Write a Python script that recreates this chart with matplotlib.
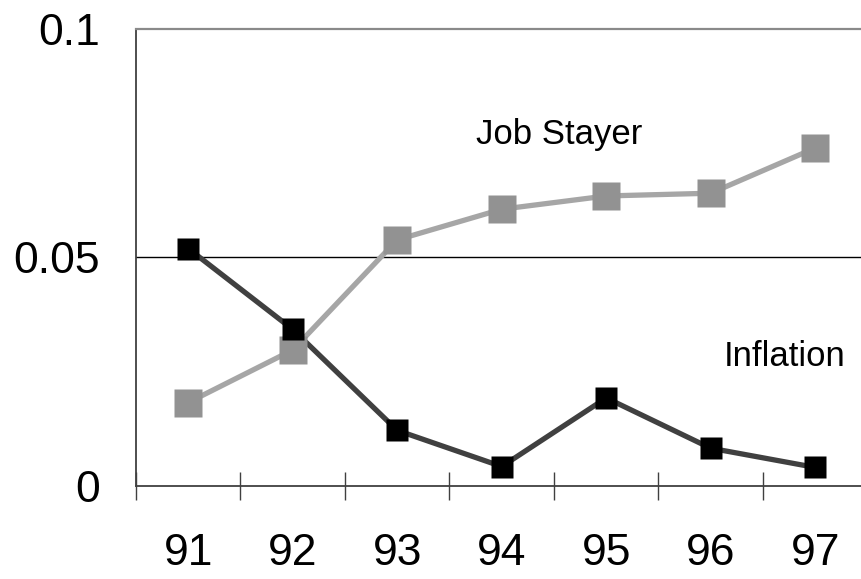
import matplotlib
matplotlib.use("Agg")
import matplotlib.pyplot as plt
import numpy as np

plt.rcParams['font.family'] = ['Liberation Sans', 'DejaVu Sans']

years = ["91", "92", "93", "94", "95", "96", "97"]
job_stayer = [0.0182, 0.0297, 0.0538, 0.0605, 0.0634, 0.0640, 0.0739]
inflation = [0.0519, 0.0342, 0.0121, 0.0042, 0.0192, 0.0082, 0.0040]
y_ticks = [0, 0.05, 0.1]
y_tick_labels = ["0", "0.05", "0.1"]

W, H = 862, 579
fig = plt.figure(figsize=(W / 100, H / 100), dpi=100)
left, right, top, bottom = 136, 867.5, 28.7, 485.7
ax = fig.add_axes([left / W, (H - bottom) / H, (right - left) / W, (bottom - top) / H])

x = np.arange(1, len(years) + 1)

# lines
ax.plot(x, job_stayer, color="#a6a6a6", lw=3.8, zorder=2, solid_capstyle="butt")
ax.plot(x, inflation, color="#404040", lw=3.8, zorder=2.1, solid_capstyle="butt")
# markers
ax.plot(x, job_stayer, ls="none", marker="s", ms=20, mfc="#929292", mec="none", zorder=3)
ax.plot(x, inflation, ls="none", marker="s", ms=16.5, mfc="black", mec="none", zorder=4)

ax.set_xlim(0.5, len(years) + 0.5)
ax.set_ylim(0, 0.1)

# gridline at 0.05
ax.axhline(0.05, color="black", lw=1.0, zorder=1)

# spines
ax.spines["right"].set_visible(False)
ax.spines["top"].set_color("#8a8a8a")
ax.spines["top"].set_linewidth(1.6)
ax.spines["left"].set_color("#404040")
ax.spines["left"].set_linewidth(1.3)
ax.spines["bottom"].set_color("#404040")
ax.spines["bottom"].set_linewidth(1.3)

# x ticks: marks at category boundaries, labels at centres
ax.set_xticks(x)
ax.set_xticklabels(years, fontsize=32)
ax.set_xticks(np.arange(0.5, len(years) + 1, 1.0), minor=True)
ax.tick_params(axis="x", which="major", length=0, pad=34)
ax.tick_params(axis="x", which="minor", direction="inout", length=20, width=1.0, color="#404040")

ax.set_yticks(y_ticks)
ax.set_yticklabels(y_tick_labels, fontsize=32)
ax.tick_params(axis="y", length=0, pad=26)

ax.text(559 / W, 1 - 135 / H, "Job Stayer", transform=fig.transFigure,
        fontsize=25, ha="center", va="center")
ax.text(785 / W, 1 - 357 / H, "Inflation", transform=fig.transFigure,
        fontsize=25, ha="center", va="center")

fig.savefig("out.png", dpi=100)
